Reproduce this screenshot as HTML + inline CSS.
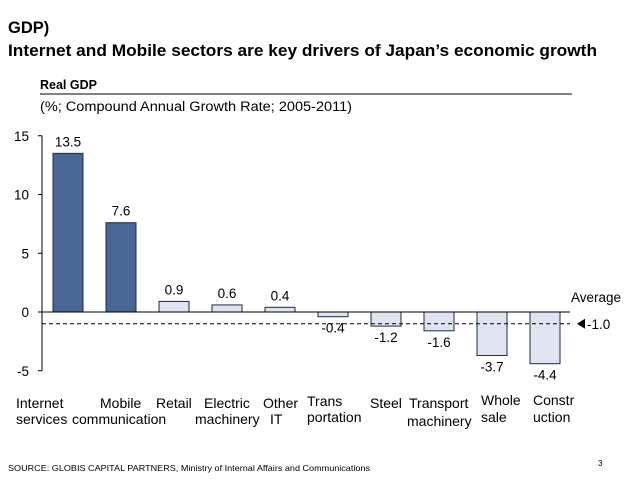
<!DOCTYPE html>
<html><head><meta charset="utf-8"><style>
body{margin:0;width:638px;height:479px;background:#fff;overflow:hidden;font-family:"Liberation Sans",Arial,sans-serif;}
</style></head><body>
<svg width="638" height="479" viewBox="0 0 638 479" xmlns="http://www.w3.org/2000/svg" font-family="Liberation Sans, Arial, sans-serif" id="chart">
<text x="8" y="33" font-size="16.5" font-weight="bold">GDP)</text>
<text x="8" y="56" font-size="16.5" font-weight="bold" textLength="589" lengthAdjust="spacingAndGlyphs">Internet and Mobile sectors are key drivers of Japan’s economic growth</text>
<text x="40" y="89" font-size="12.5" font-weight="bold">Real GDP</text>
<line x1="40" y1="94" x2="572" y2="94" stroke="#000" stroke-width="1"/>
<text x="40" y="111" font-size="13.5" textLength="312" lengthAdjust="spacingAndGlyphs">(%; Compound Annual Growth Rate; 2005-2011)</text>
<text x="8" y="471" font-size="8.5" textLength="362" lengthAdjust="spacingAndGlyphs">SOURCE: GLOBIS CAPITAL PARTNERS, Ministry of Internal Affairs and Communications</text>
<text x="598" y="466" font-size="8">3</text>
<g id="plot"></g>
</svg>
<script>
const categories1=["Internet","Mobile","Retail","Electric","Other","Trans","Steel","Transport","Whole","Constr"];
const categories2=["services","communication","","machinery","IT","portation","","machinery","sale","uction"];
const values=[13.5,7.6,0.9,0.6,0.4,-0.4,-1.2,-1.6,-3.7,-4.4];
const highlight=[true,true,false,false,false,false,false,false,false,false];
const averageValue=-1.0;
const yTicks=[15,10,5,0,-5];
const labelDx1=[-52,-21,-18,-23,-17,-26,-16,-30,-11,-12];
const labelDx2=[-52,-49,0,-32,-10,-26,0,-32,-11,-12];
const labelDy=[0,0,0,0,0,-2,0,0,-3,-3];
const labelDy2=[0,0,0,0,0,-2,0,2,-2,-2];
const NS="http://www.w3.org/2000/svg";
const g=document.getElementById('plot');
const y=v=>312-v*11.75;
const x=i=>68+i*53;
const bw=30;
function mk(t,a){const e=document.createElementNS(NS,t);for(const k in a)e.setAttribute(k,a[k]);g.appendChild(e);return e;}
let ax=mk('line',{x1:42,y1:y(15),x2:42,y2:y(-5),stroke:'#000'});


yTicks.forEach(t=>{
 let tk=mk('line',{x1:38,x2:42,y1:y(t),y2:y(t),stroke:'#000'});
 
 
 let tl=mk('text',{x:29,y:y(t)+5,'font-size':13.5,'text-anchor':'end'});
 tl.textContent=t;
 
 
});
values.forEach((v,i)=>{
 const top=Math.min(y(v),y(0)),h=Math.abs(y(v)-y(0));
 let r=mk('rect',{x:x(i)-bw/2,y:top,width:bw,height:h,fill:highlight[i]?'#4a6796':'#dfe4f0',stroke:'#1c2a44','stroke-width':1});
 
 
 let vl=mk('text',{x:x(i),y:v>=0?y(v)-7:y(v)+16,'font-size':13.5,'text-anchor':'middle'});
 vl.textContent=v.toFixed(1);
 
 
 let c1=mk('text',{x:x(i)+labelDx1[i],y:408+labelDy[i],'font-size':14});
 c1.textContent=categories1[i];
 
 
 if(categories2[i]){
 let c2=mk('text',{x:x(i)+labelDx2[i],y:424+labelDy2[i],'font-size':14});
 c2.textContent=categories2[i];
 
 }
});
let z=mk('line',{x1:42,x2:570,y1:y(0),y2:y(0),stroke:'#000'});


let av=mk('line',{x1:42,x2:570,y1:y(averageValue),y2:y(averageValue),stroke:'#000','stroke-dasharray':'4,3'});


let ar=mk('polygon',{points:`577,${y(averageValue)} 585,${y(averageValue)-5} 585,${y(averageValue)+5}`,fill:'#000'});


let at=mk('text',{x:587,y:y(averageValue)+5,'font-size':13.5});
at.textContent=averageValue.toFixed(1);


let al=mk('text',{x:571,y:302,'font-size':13.5});
al.textContent='Average';


</script>
</body></html>
